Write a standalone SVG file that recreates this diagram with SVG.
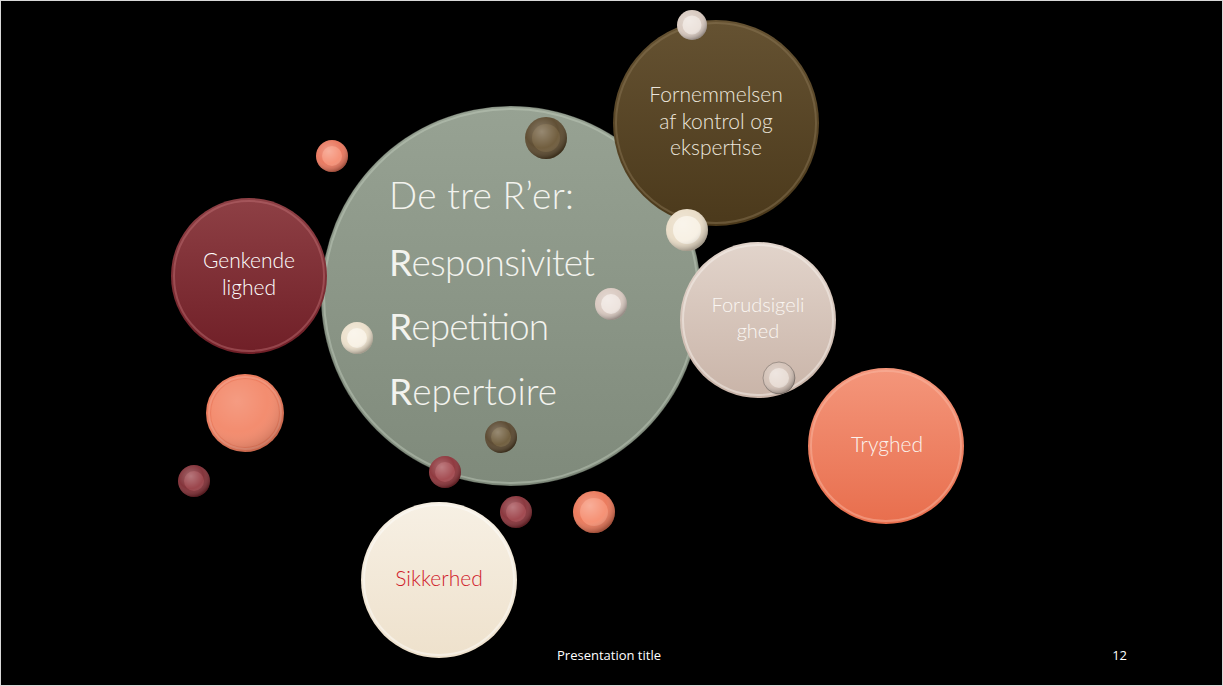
<svg xmlns="http://www.w3.org/2000/svg" width="1223" height="686" viewBox="0 0 1223 686">
<defs>
<linearGradient id="gGray" x1="0" y1="0" x2="0" y2="1"><stop offset="0" stop-color="#97a293"/><stop offset="1" stop-color="#7f8a7b"/></linearGradient>
<linearGradient id="gBrown" x1="0" y1="0" x2="0" y2="1"><stop offset="0" stop-color="#655232"/><stop offset="1" stop-color="#4b391b"/></linearGradient>
<linearGradient id="gRed" x1="0" y1="0" x2="0" y2="1"><stop offset="0" stop-color="#8e4045"/><stop offset="1" stop-color="#701f27"/></linearGradient>
<linearGradient id="gOrange" x1="0" y1="0" x2="0" y2="1"><stop offset="0" stop-color="#f4967b"/><stop offset="1" stop-color="#e86e4d"/></linearGradient>
<linearGradient id="gBeige" x1="0" y1="0" x2="0" y2="1"><stop offset="0" stop-color="#e2d4cb"/><stop offset="1" stop-color="#c9b4a8"/></linearGradient>
<linearGradient id="gCream" x1="0" y1="0" x2="0" y2="1"><stop offset="0" stop-color="#f7f0e4"/><stop offset="1" stop-color="#eee1cc"/></linearGradient>
<radialGradient id="shine" cx="0.4" cy="0.35" r="0.65"><stop offset="0" stop-color="#fff" stop-opacity="0.3"/><stop offset="0.6" stop-color="#fff" stop-opacity="0.05"/><stop offset="1" stop-color="#000" stop-opacity="0.3"/></radialGradient>
</defs>
<style>
.rim{fill:none;stroke-width:2;opacity:.45}
.edge{fill:none;stroke:#000;stroke-opacity:.25;stroke-width:1}
.lbl{font-family:Lato,"Open Sans","Liberation Sans",sans-serif;font-weight:300;text-anchor:middle}
.big{font-family:Lato,"Open Sans","Liberation Sans",sans-serif;font-weight:300;font-size:37px;fill:#f3f3ee}
.big tspan.r{font-weight:400}
.foot{font-family:"Open Sans","Liberation Sans",sans-serif;font-size:13px;fill:#fff}
.shine{fill:url(#shine)}
</style>
<rect x="0" y="0" width="1223" height="686" fill="#000"/>
<rect x="0.5" y="0.5" width="1222" height="685" fill="none" stroke="#d8d8d8" stroke-width="1"/>

<g id="node-main">
<circle cx="511" cy="296" r="190" fill="url(#gGray)"/>
<circle cx="511" cy="296" r="187" class="rim" stroke="#c4cfbf" stroke-width="3"/>
<circle cx="511" cy="296" r="190" class="edge"/>
<text class="big" x="389" y="209" textLength="185" lengthAdjust="spacing">De tre R’er:</text>
<text class="big" x="389" y="276" textLength="206" lengthAdjust="spacing"><tspan class="r">R</tspan>esponsivitet</text>
<text class="big" x="389" y="340" textLength="160" lengthAdjust="spacing"><tspan class="r">R</tspan>epetition</text>
<text class="big" x="389" y="405" textLength="168" lengthAdjust="spacing"><tspan class="r">R</tspan>epertoire</text>
</g>

<g id="node-fornemmelsen">
<circle cx="716" cy="123" r="103" fill="url(#gBrown)"/>
<circle cx="716" cy="123" r="100" class="rim" stroke="#8f7b58"/>
<text class="lbl" x="716" y="102" font-size="21" fill="#ece6dc">Fornemmelsen</text>
<text class="lbl" x="716" y="129" font-size="21" fill="#ece6dc">af kontrol og</text>
<text class="lbl" x="716" y="155" font-size="21" fill="#ece6dc">ekspertise</text>
</g>

<g id="node-genkendelighed">
<circle cx="249" cy="276" r="78" fill="url(#gRed)"/>
<circle cx="249" cy="276" r="75" class="rim" stroke="#c07075"/>
<text class="lbl" x="249" y="268" font-size="21" font-weight="400" fill="#fff">Genkende</text>
<text class="lbl" x="249" y="295" font-size="21" font-weight="400" fill="#fff">lighed</text>
</g>

<g id="node-forudsigelighed">
<circle cx="758" cy="320" r="78" fill="url(#gBeige)"/>
<circle cx="758" cy="320" r="75" class="rim" stroke="#fbf6f2" opacity=".7"/>
<text class="lbl" x="758" y="312" font-size="20" fill="#faf6f2">Forudsigeli</text>
<text class="lbl" x="758" y="338" font-size="20" fill="#faf6f2">ghed</text>
</g>

<g id="node-tryghed">
<circle cx="886" cy="446" r="78" fill="url(#gOrange)"/>
<circle cx="886" cy="446" r="75" class="rim" stroke="#fbbca9"/>
<text class="lbl" x="887" y="452" font-size="21" fill="#fbf3ee">Tryghed</text>
</g>

<g id="node-sikkerhed">
<circle cx="439" cy="580" r="78" fill="url(#gCream)"/>
<circle cx="439" cy="580" r="75" class="rim" stroke="#ffffff" opacity=".8"/>
<text class="lbl" x="439" y="586" font-size="21" font-weight="400" fill="#d0202a">Sikkerhed</text>
</g>

<g id="bubbles">
<g id="b1"><circle cx="692" cy="25" r="15" fill="#d6c7bd"/><circle cx="692" cy="25" r="9.5" fill="#ebe1da"/><circle cx="692" cy="25" r="15" class="shine"/></g>
<g id="b2"><circle cx="687" cy="230" r="21" fill="#e9dcc6"/><circle cx="687" cy="230" r="14" fill="#f7f0e3"/><circle cx="687" cy="230" r="21" class="shine"/></g>
<g id="b3"><circle cx="546" cy="138" r="21" fill="#58462a"/><circle cx="546" cy="138" r="14" fill="#6a5635"/><circle cx="546" cy="138" r="21" class="shine"/></g>
<g id="b4"><circle cx="332" cy="156" r="16" fill="#e9745a"/><circle cx="332" cy="156" r="10" fill="#f58d72"/><circle cx="332" cy="156" r="16" class="shine"/></g>
<g id="b5"><circle cx="611" cy="304" r="16" fill="#d8c8bf"/><circle cx="611" cy="304" r="10" fill="#ede3dd"/><circle cx="611" cy="304" r="16" class="shine"/></g>
<g id="b6"><circle cx="357" cy="338" r="16" fill="#ebdfca"/><circle cx="357" cy="338" r="10" fill="#f8f1e4"/><circle cx="357" cy="338" r="16" class="shine"/></g>
<g id="b7"><circle cx="501" cy="437" r="16" fill="#55432a"/><circle cx="501" cy="437" r="10" fill="#6b5837"/><circle cx="501" cy="437" r="16" class="shine"/></g>
<g id="b8"><circle cx="445" cy="472" r="16" fill="#8a3036"/><circle cx="445" cy="472" r="10" fill="#a1454b"/><circle cx="445" cy="472" r="16" class="shine"/></g>
<g id="b9"><circle cx="245" cy="413" r="39" fill="#ec7a5b"/><circle cx="245" cy="413" r="34" fill="#f38a6c"/><circle cx="245" cy="413" r="36" class="rim" stroke="#f8ae98"/><circle cx="245" cy="413" r="39" class="shine" opacity=".5"/></g>
<g id="b10"><circle cx="194" cy="481" r="16" fill="#7e2a31"/><circle cx="194" cy="481" r="10" fill="#963c43"/><circle cx="194" cy="481" r="16" class="shine"/></g>
<g id="b11"><circle cx="779" cy="378" r="16" fill="#d2c0b5"/><circle cx="779" cy="378" r="10" fill="#e7dbd3"/><circle cx="779" cy="378" r="16" class="shine"/><circle cx="779" cy="378" r="16" class="edge" stroke-opacity=".5"/></g>
<g id="b12"><circle cx="516" cy="512" r="16" fill="#852e35"/><circle cx="516" cy="512" r="10" fill="#9d4148"/><circle cx="516" cy="512" r="16" class="shine"/></g>
<g id="b13"><circle cx="594" cy="512" r="21" fill="#ea7556"/><circle cx="594" cy="512" r="14" fill="#f58c6e"/><circle cx="594" cy="512" r="21" class="shine"/></g>
</g>

<g id="footer">
<text class="foot" x="557" y="660">Presentation title</text>
<text class="foot" x="1127" y="660" text-anchor="end">12</text>
</g>
</svg>
